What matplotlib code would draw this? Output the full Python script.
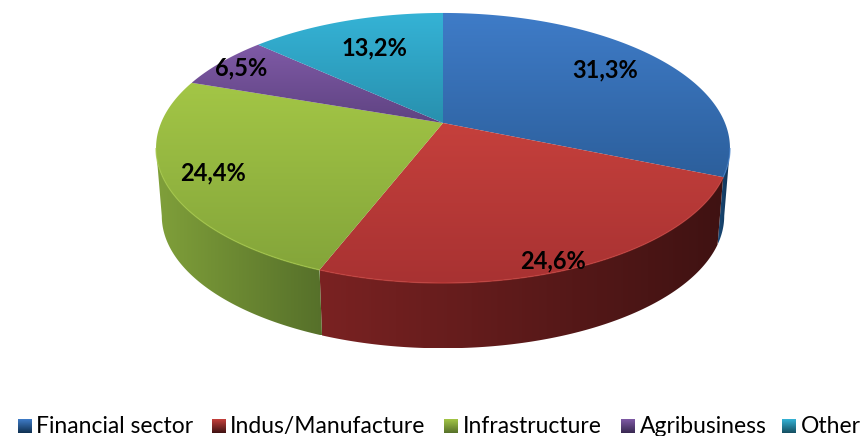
import numpy as np
import matplotlib
matplotlib.use('Agg')
import matplotlib.pyplot as plt
from matplotlib.patches import Polygon
from matplotlib.colors import LinearSegmentedColormap

categories = ['Financial sector', 'Indus/Manufacture', 'Infrastructure', 'Agribusiness', 'Other']
shares = [31.3, 24.6, 24.4, 6.5, 13.2]
value_labels = ['31,3%', '24,6%', '24,4%', '6,5%', '13,2%']

top_light = ['#3f7cc8', '#c5403c', '#a3c646', '#7f5aa6', '#35b3d6']
top_dark = ['#2c5f9c', '#a83232', '#84a53a', '#5f4382', '#2890ae']
side_light = ['#1a4a78', '#7a2222', '#80a03a', '#503870', '#20708a']
side_dark = ['#0f3050', '#3f1212', '#56702a', '#382850', '#154e60']
legend_x = [18, 212, 444, 621, 782]
legend_text_x = [36, 230, 463, 640, 801]
label_pos = [(605, 70), (553, 261), (213, 173), (241, 68), (374, 48)]

# pie disc in perspective, pixel coordinates
CX, CY = 443, 123
RX, RY, P = 282, 130.4, 0.185
DEPTH, SHRINK = 68, 0.98
MID_Y = 148


def top_xy(theta):
    w = 1 + P * np.cos(theta)
    return CX + RX * np.sin(theta) / w, CY - RY * np.cos(theta) / w


def bottom_xy(theta):
    x, y = top_xy(theta)
    return CX + (x - CX) * SHRINK, MID_Y + DEPTH + (y - MID_Y) * SHRINK


def gradient(ax, c1, c2, patch, vertical=True):
    cmap = LinearSegmentedColormap.from_list('g', [c1, c2])
    x0, y0 = patch.get_xy().min(axis=0)
    x1, y1 = patch.get_xy().max(axis=0)
    g = np.linspace(0, 1, 256)
    g = g.reshape(-1, 1) if vertical else g.reshape(1, -1)
    # image rows run downward with the inverted y axis
    im = ax.imshow(g, cmap=cmap, extent=(x0, x1, y1, y0), aspect='auto', zorder=patch.get_zorder(), interpolation='bilinear')
    patch.set_facecolor('none')
    patch.set_edgecolor('none')
    ax.add_patch(patch)
    im.set_clip_path(patch)


fig = plt.figure(figsize=(8.63, 4.36), dpi=100)
ax = fig.add_axes([0, 0, 1, 1])

edges = np.radians(np.cumsum([0] + shares) * 3.6)

# side wall first, only the part of the rim that faces the viewer
# (the extreme x points of the projected ellipse sit at cos(theta) = -P)
front_a, front_b = np.arccos(-P), 2 * np.pi - np.arccos(-P)
for i in range(len(shares)):
    a, b = max(edges[i], front_a), min(edges[i + 1], front_b)
    if b <= a:
        continue
    t = np.linspace(a, b, 120)
    tx, ty = top_xy(t)
    bx, by = bottom_xy(t)
    pts = np.column_stack([np.r_[tx, bx[::-1]], np.r_[ty, by[::-1]]])
    # left part of the wall is lit, it darkens to the right
    gradient(ax, side_light[i], side_dark[i], Polygon(pts, closed=True, zorder=2), vertical=False)

# top face
for i in range(len(shares)):
    t = np.linspace(edges[i], edges[i + 1], 200)
    x, y = top_xy(t)
    pts = np.column_stack([np.r_[CX, x], np.r_[CY, y]])
    gradient(ax, top_light[i], top_dark[i], Polygon(pts, closed=True, zorder=3))
    # thin bevel highlight only along the front rim
    a, b = max(edges[i], front_a), min(edges[i + 1], front_b)
    if b > a:
        t = np.linspace(a, b, 120)
        x, y = top_xy(t)
        ax.plot(x, y, color=top_light[i], lw=1.0, alpha=0.7, zorder=4, solid_capstyle='butt')

for (lx, ly), s in zip(label_pos, value_labels):
    ax.text(lx, ly, s, ha='center', va='center', fontsize=17, fontweight='bold',
            family='Lato', color='black', zorder=6)

# legend
for i, name in enumerate(categories):
    sq = Polygon([(legend_x[i], 419), (legend_x[i] + 14, 419), (legend_x[i] + 14, 433), (legend_x[i], 433)],
                 closed=True, zorder=5)
    gradient(ax, top_light[i], side_dark[i], sq)
    ax.text(legend_text_x[i], 426, name, ha='left', va='center', fontsize=16.5, family='Lato', color='black')

ax.set_xlim(0, 863)
ax.set_ylim(436, 0)
ax.axis('off')
fig.savefig('out.png', dpi=100)
